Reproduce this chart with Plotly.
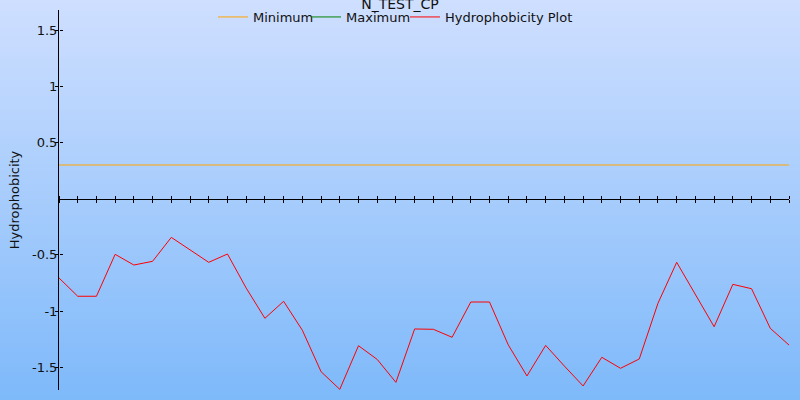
import plotly.graph_objects as go

# ---- data ----
positions = list(range(40))
hydrophobicity = [
    -0.705, -0.868, -0.868, -0.495, -0.590, -0.557, -0.344, -0.458, -0.566, -0.492,
    -0.795, -1.064, -0.913, -1.170, -1.539, -1.696, -1.308, -1.430, -1.634, -1.159,
    -1.162, -1.233, -0.919, -0.919, -1.300, -1.577, -1.305, -1.489, -1.666, -1.411,
    -1.509, -1.426, -0.930, -0.566, -0.857, -1.139, -0.762, -0.801, -1.153, -1.302,
]
minimum = [0.30] * 40
maximum = [None]
y_tick_vals = [1.5, 1, 0.5, -0.5, -1, -1.5]
y_tick_text = ["1.5", "1", "0.5", "-0.5", "-1", "-1.5"]
title_text = "N_TEST_CP"
y_title = "Hydrophobicity"
series_names = ["Minimum", "Maximum", "Hydrophobicity Plot"]

# ---- layout geometry ----
W, H = 800, 400
ML, MR, MT, MB = 59, 11, 10, 10
Y_RANGE = [-1.702, 1.679]
X_RANGE = [0, 39]
zero_pos = (0 - Y_RANGE[0]) / (Y_RANGE[1] - Y_RANGE[0])
font_family = "DejaVu Sans, Verdana, sans-serif"
pw = W - ML - MR
ph = H - MT - MB
legend_text_px = [253, 346, 445]   # where each legend label starts (pixels)
legend_ids = ["legend", "legend2", "legend3"]

fig = go.Figure()
fig.add_trace(go.Scatter(x=positions, y=minimum, mode="lines", name=series_names[0],
                         line=dict(color="#ffa500", width=1), legend=legend_ids[0]))
fig.add_trace(go.Scatter(x=positions[:len(maximum)], y=maximum, mode="lines", name=series_names[1],
                         line=dict(color="#008000", width=1), legend=legend_ids[1]))
fig.add_trace(go.Scatter(x=positions, y=hydrophobicity, mode="lines", name=series_names[2],
                         line=dict(color="#ff0000", width=1), legend=legend_ids[2]))

# background vertical gradient (decoration) as thin bands
top_c = (207, 223, 255)
bot_c = (126, 185, 250)
nb = 100
shapes = []
for i in range(nb):
    y0px = i * H / nb
    y1px = (i + 1) * H / nb
    t = (i + 0.5) / nb
    c = tuple(round(top_c[k] + (bot_c[k] - top_c[k]) * t) for k in range(3))
    shapes.append(dict(
        type="rect", xref="paper", yref="paper", layer="below",
        x0=-ML / pw, x1=(W - ML) / pw,
        y0=(H - MB - y1px - 0.5) / ph, y1=(H - MB - y0px + 0.5) / ph,
        fillcolor="rgb(%d,%d,%d)" % c, line=dict(width=0),
    ))

legend_common = dict(orientation="h", xanchor="left", y=(H - MB - 17) / ph,
                     yanchor="middle", bgcolor="rgba(0,0,0,0)", font=dict(size=13),
                     itemwidth=30)
legends = {}
for lid, tx in zip(legend_ids, legend_text_px):
    legends[lid] = dict(legend_common, x=(tx - 40 - ML) / pw)

fig.update_layout(
    width=W, height=H,
    margin=dict(l=ML, r=MR, t=MT, b=MB, pad=0, autoexpand=False),
    paper_bgcolor="rgba(0,0,0,0)",
    plot_bgcolor="rgba(0,0,0,0)",
    font=dict(family=font_family, size=13, color="#111"),
    title=dict(text=title_text, x=0.5, xanchor="center", y=1 - 4.0 / H, yanchor="middle",
               font=dict(size=14, color="#111"), pad=dict(t=0, b=0), automargin=False),
    showlegend=True,
    shapes=shapes,
    xaxis=dict(range=X_RANGE, anchor="free", position=zero_pos, showgrid=False,
               zeroline=False, showline=True, linecolor="#000", linewidth=1,
               ticks="outside", ticklen=3, tickcolor="#000", tickwidth=1, dtick=1,
               tick0=0, showticklabels=False, automargin=False),
    xaxis2=dict(range=X_RANGE, overlaying="x", side="top", anchor="free",
                position=zero_pos, showgrid=False, zeroline=False, showline=False,
                ticks="outside", ticklen=3, tickcolor="#000", tickwidth=1, dtick=1,
                tick0=0, showticklabels=False, automargin=False),
    yaxis=dict(range=Y_RANGE, showgrid=False, zeroline=False, showline=True,
               linecolor="#000", linewidth=1, ticks="outside", ticklen=3,
               tickcolor="#000", tickwidth=1, tickvals=y_tick_vals,
               ticktext=y_tick_text, tickfont=dict(size=13, color="#111"),
               ticklabelstandoff=-5,
               title=dict(text=y_title, font=dict(size=13, color="#111"), standoff=9),
               automargin=False),
    yaxis2=dict(range=Y_RANGE, overlaying="y", side="right", anchor="free", position=0,
                showgrid=False, zeroline=False, showline=False, ticks="outside",
                ticklen=3, tickcolor="#000", tickwidth=1, tickvals=y_tick_vals,
                showticklabels=False, automargin=False),
    **legends,
)
# dummy invisible trace so the overlay axes are drawn
fig.add_trace(go.Scatter(x=[None], y=[None], xaxis="x2", yaxis="y2",
                         showlegend=False, hoverinfo="skip"))

fig.write_html("out.html", config={"displayModeBar": False},
               post_script="document.body.style.margin='0';")
